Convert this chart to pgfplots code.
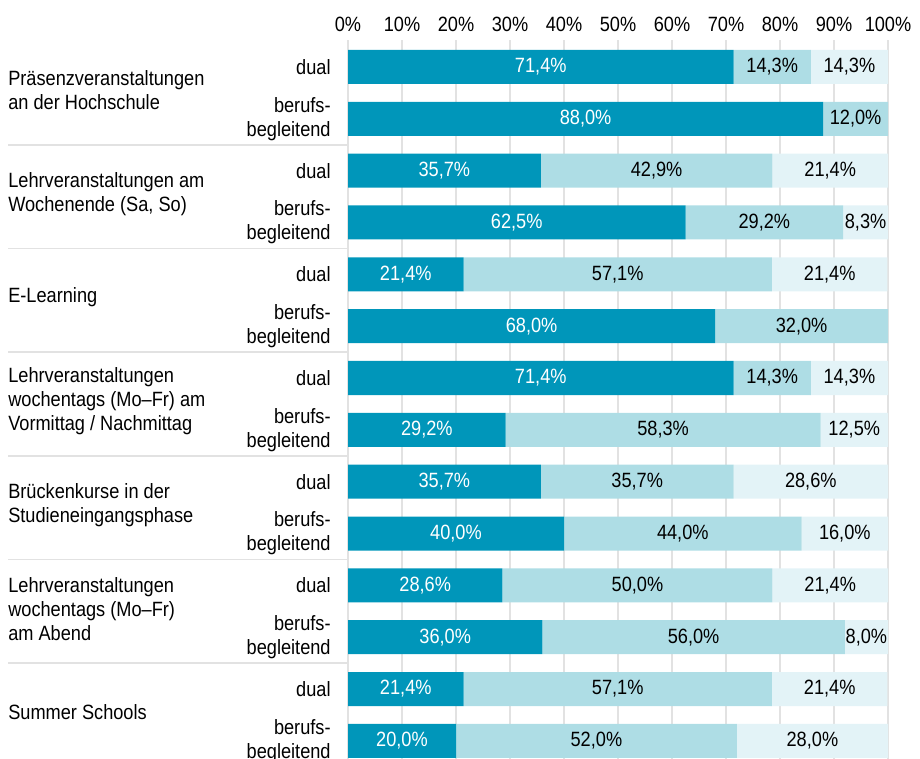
\documentclass[border=0pt]{standalone}
\usepackage{fontspec}
\setmainfont[FakeStretch=0.88]{Liberation Sans}
\usepackage{pgfplots}
\pgfplotsset{compat=1.18}
\usepackage{pgfplotstable}
\definecolor{cA}{HTML}{0096BA}
\definecolor{cB}{HTML}{AEDDE5}
\definecolor{cC}{HTML}{E3F3F7}
\definecolor{gridc}{HTML}{E2E2E2}
\pgfplotstableread{
y a b c
0 71.4 14.3 14.3
1 88.0 12.0 0
2 35.7 42.9 21.4
3 62.5 29.2 8.3
4 21.4 57.1 21.4
5 68.0 32.0 0
6 71.4 14.3 14.3
7 29.2 58.3 12.5
8 35.7 35.7 28.6
9 40.0 44.0 16.0
10 28.6 50.0 21.4
11 36.0 56.0 8.0
12 21.4 57.1 21.4
13 20.0 52.0 28.0
}\data
\pgfplotsset{
  common/.style={
    at={(261pt,-30pt)}, anchor=north west, scale only axis,
    width=405pt, height=539.25pt,
    xmin=0, xmax=100, ymin=-0.52, ymax=13.35, y dir=reverse,
    clip=false,
  },
  lbl/.style={draw=none, mark=none, point meta=explicit,
    nodes near coords={\pgfmathprintnumber[fixed,fixed zerofill,precision=1,use comma]{\pgfplotspointmeta}\%},
    every node near coord/.append style={anchor=center, text=#1, inner sep=0pt}},
  /pgf/number format/assume math mode=true,
}
\begin{document}
\begin{tikzpicture}[font=\fontsize{15.5pt}{18pt}\selectfont]
\path[use as bounding box] (0,0) rectangle (690pt,-569.25pt);
\begin{axis}[common,
  xbar stacked, bar width=25.5pt,
  xticklabel pos=upper,
  xtick={0,10,...,100},
  xticklabels={0\%,10\%,20\%,30\%,40\%,50\%,60\%,70\%,80\%,90\%,100\%},
  xmajorgrids, grid style={gridc, line width=1.3pt},
  major tick length=0pt,
  axis line style={draw=none},
  ytick={0,...,13},
  yticklabels={dual,berufs-\\begleitend,dual,berufs-\\begleitend,dual,berufs-\\begleitend,dual,berufs-\\begleitend,dual,berufs-\\begleitend,dual,berufs-\\begleitend,dual,berufs-\\begleitend},
  yticklabel style={align=right, anchor=east, xshift=-9.5pt},
  xticklabel style={yshift=3pt},
]
\addplot[fill=cA, draw=none] table[x=a, y=y]{\data};
\addplot[fill=cB, draw=none] table[x=b, y=y]{\data};
\addplot[fill=cC, draw=none] table[x=c, y=y]{\data};
\end{axis}
\begin{axis}[common, hide axis]
\addplot[lbl=white] table[x expr=\thisrow{a}/2, y=y, meta=a]{\data};
\addplot[lbl=black] table[x expr=\thisrow{a}+\thisrow{b}/2, y=y, meta=b]{\data};
\addplot[lbl=black, skip coords between index={1}{2}, skip coords between index={5}{6}] table[x expr=\thisrow{a}+\thisrow{b}+\thisrow{c}/2, y=y, meta=c]{\data};
\pgfplotsinvokeforeach{1.5,3.5,5.5,7.5,9.5,11.5}{
  \draw[gridc, line width=1.3pt] (axis cs:-62.96,#1) -- (axis cs:0,#1);
}
\tikzset{grp/.style={anchor=west, align=left, inner xsep=0pt}}
\node[grp] at (axis cs:-62.96,0.45) {Präsenzveranstaltungen\\an der Hochschule};
\node[grp] at (axis cs:-62.96,2.45) {Lehrveranstaltungen am\\Wochenende (Sa, So)};
\node[grp] at (axis cs:-62.96,4.45) {E-Learning};
\node[grp] at (axis cs:-62.96,6.45) {Lehrveranstaltungen\\wochentags (Mo–Fr) am\\Vormittag / Nachmittag};
\node[grp] at (axis cs:-62.96,8.45) {Brückenkurse in der\\Studieneingangsphase};
\node[grp] at (axis cs:-62.96,10.45) {Lehrveranstaltungen\\wochentags (Mo–Fr)\\am Abend};
\node[grp] at (axis cs:-62.96,12.45) {Summer Schools};
\end{axis}
\end{tikzpicture}
\end{document}
